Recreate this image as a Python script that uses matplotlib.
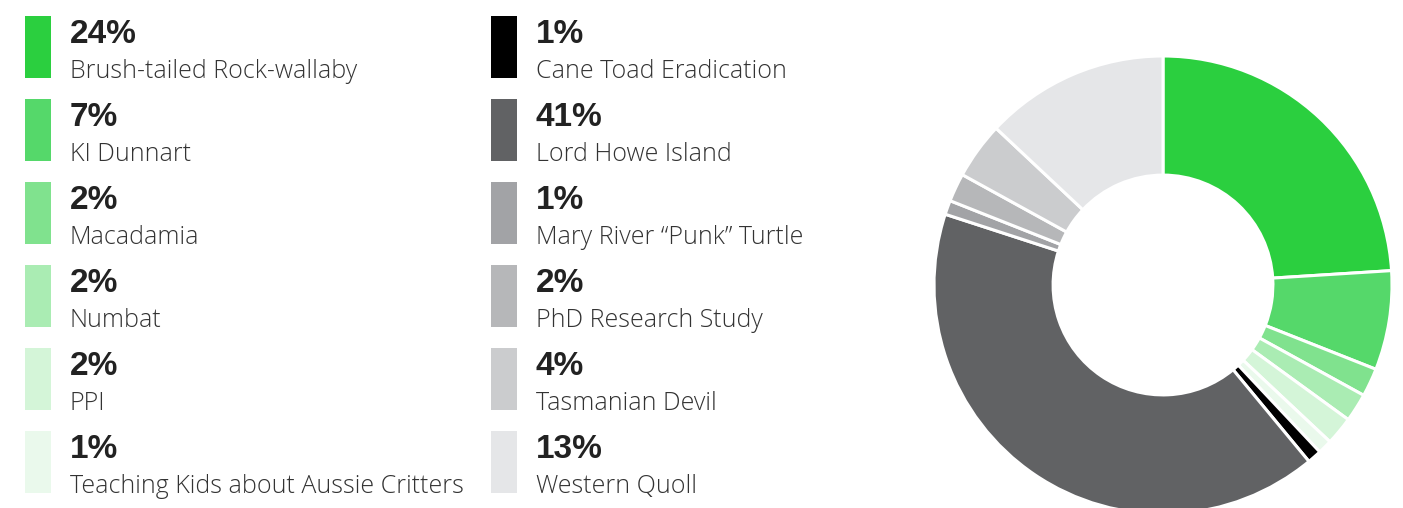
import matplotlib.pyplot as plt
from matplotlib.patches import Rectangle

# data
names = ["Brush-tailed Rock-wallaby", "KI Dunnart", "Macadamia", "Numbat", "PPI",
         "Teaching Kids about Aussie Critters", "Cane Toad Eradication", "Lord Howe Island",
         "Mary River \u201cPunk\u201d Turtle", "PhD Research Study", "Tasmanian Devil", "Western Quoll"]
shares = [24, 7, 2, 2, 2, 1, 1, 41, 1, 2, 4, 13]
colors = ["#2BCF3F", "#55D86A", "#80E28E", "#AAECB3", "#D4F5D8", "#EAF9EC",
          "#000000", "#616264", "#A2A3A6", "#B6B7B9", "#CBCCCE", "#E5E6E8"]

W, H = 1403, 508
fig = plt.figure(figsize=(W / 100, H / 100), dpi=100)

# legend drawn in pixel space
lax = fig.add_axes([0, 0, 1, 1])
lax.set_xlim(0, W)
lax.set_ylim(H, 0)
lax.axis("off")

col_x = [25, 491]
row_top0, row_pitch = 16, 83
sw_w, sw_h = 26, 62
for i, (name, val, c) in enumerate(zip(names, shares, colors)):
    col, row = divmod(i, 6)
    x0 = col_x[col]
    y0 = row_top0 + row * row_pitch
    lax.add_patch(Rectangle((x0, y0), sw_w, sw_h, facecolor=c, edgecolor="none"))
    lax.text(x0 + 45, y0 + 27, f"{val}%", fontsize=24, fontweight="bold",
             family="Liberation Sans", color="#222222", va="baseline", ha="left")
    lax.text(x0 + 45, y0 + 62, name, fontsize=18, family="Open Sans",
             fontweight="light", color="#333333", va="baseline", ha="left")

# donut
cx, cy, R = 1163, 285, 229
pax = fig.add_axes([(cx - R) / W, (H - cy - R) / H, 2 * R / W, 2 * R / H])
pax.pie(shares, colors=colors, startangle=90, counterclock=False, radius=1,
        wedgeprops=dict(width=0.52, edgecolor="white", linewidth=2.2))
pax.set_xlim(-1, 1)
pax.set_ylim(-1, 1)
pax.set_aspect("equal")
pax.axis("off")

fig.savefig("out.png", dpi=100)
